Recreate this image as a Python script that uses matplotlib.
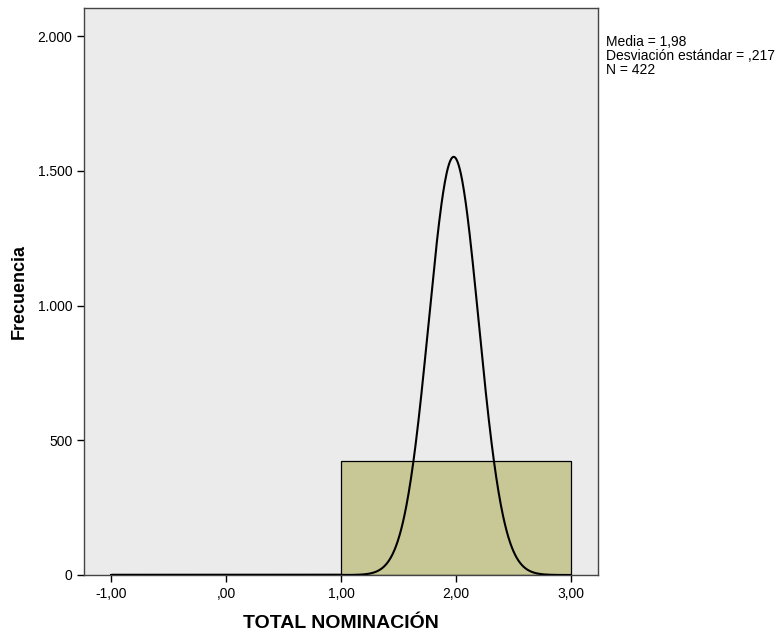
import numpy as np
from matplotlib import pyplot as plt

plt.rcParams['font.family'] = ['Liberation Sans', 'DejaVu Sans']

# datos del histograma
bin_edges = [1.0, 3.0]
counts = [422]
media = 1.98
desv = 0.217
N = 422
x_ticks = [-1.0, 0.0, 1.0, 2.0, 3.0]
x_labels = ['-1,00', ',00', '1,00', '2,00', '3,00']
y_ticks = [0, 500, 1000, 1500, 2000]
y_labels = ['0', '500', '1.000', '1.500', '2.000']

fig = plt.figure(figsize=(7.81, 6.34), dpi=100)
ax = fig.add_axes([84/781, 59/634, 514/781, 567/634])
ax.set_facecolor('#ebebeb')

ax.bar(bin_edges[0], counts[0], width=bin_edges[1]-bin_edges[0], align='edge',
       color='#c8c896', edgecolor='black', lw=0.9, zorder=2)

# curva normal
bw = bin_edges[1] - bin_edges[0]
xx = np.linspace(-1, 3, 800)
yy = N*bw/(desv*np.sqrt(2*np.pi))*np.exp(-0.5*((xx-media)/desv)**2)
ax.plot(xx, yy, 'k-', lw=1.5, zorder=3)
ax.plot([-1, 1], [0, 0], 'k-', lw=2.5, zorder=3, solid_capstyle='butt')

ax.set_xlim(-1.235, 3.235)
ax.set_ylim(0, 2104)
ax.set_xticks(x_ticks)
ax.set_xticklabels(x_labels)
ax.set_yticks(y_ticks)
ax.set_yticklabels(y_labels)
ax.tick_params(direction='out', length=5, width=1, labelsize=10, colors='black')
for s in ax.spines.values():
    s.set_color('#444444')
    s.set_linewidth(1)

ax.set_ylabel('Frecuencia', fontsize=13, fontweight='bold', labelpad=7)
ax.set_xlabel('TOTAL NOMINACIÓN', fontsize=14, fontweight='bold', labelpad=10)

fig.text(606/781, 1-35/634, 'Media = 1,98\nDesviación estándar = ,217\nN = 422',
         fontsize=10, va='top', ha='left', linespacing=1.0)

plt.savefig('out.png', dpi=100)
